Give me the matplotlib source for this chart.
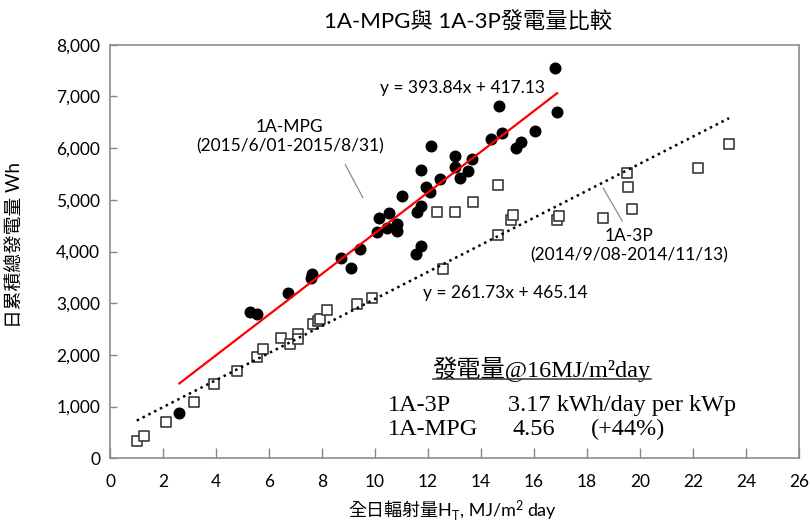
import numpy as np
import matplotlib
matplotlib.use("Agg")
import matplotlib.pyplot as plt
from matplotlib.lines import Line2D
from matplotlib.ticker import FuncFormatter

plt.rcParams['font.family'] = ['Lato', 'Noto Sans CJK TC', 'DejaVu Sans']

# 1A-MPG (2015/6/01-2015/8/31): daily irradiation (MJ/m2 day) vs daily energy (Wh)
mpg_x = [2.62, 5.28, 5.55, 6.72, 7.58, 7.62, 8.72, 9.09, 9.43, 10.08,
         10.15, 10.45, 10.53, 10.83, 10.83, 11.02, 11.55, 11.58, 11.74, 11.74,
         11.74, 11.92, 12.08, 12.11, 12.45, 13.00, 13.02, 13.20, 13.51, 13.66,
         14.38, 14.68, 14.79, 15.32, 15.51, 16.04, 16.79, 16.87]
mpg_y = [870, 2830, 2790, 3200, 3490, 3565, 3870, 3680, 4050, 4380,
         4640, 4450, 4740, 4530, 4400, 5070, 3950, 4760, 4100, 4880,
         5576, 5250, 5150, 6040, 5400, 5630, 5850, 5420, 5560, 5790,
         6180, 6820, 6300, 6000, 6120, 6330, 7550, 6700]

# 1A-3P (2014/9/08-2014/11/13)
p3_x = [1.01, 1.30, 2.10, 3.18, 3.94, 4.78, 5.56, 5.79, 6.45, 6.79,
        7.09, 7.09, 7.67, 7.86, 7.92, 8.18, 9.32, 9.90, 12.33, 12.58,
        13.02, 13.69, 14.65, 14.65, 15.13, 15.22, 16.85, 16.93, 18.62, 19.50,
        19.53, 19.71, 22.20, 23.36]
p3_y = [330, 425, 705, 1095, 1437, 1695, 1953, 2108, 2320, 2210,
        2398, 2300, 2597, 2660, 2694, 2868, 2978, 3106, 4758, 3656,
        4758, 4963, 5286, 4319, 4616, 4700, 4609, 4690, 4654, 5512,
        5253, 4816, 5621, 6079]

# linear trend lines printed on the chart
mpg_fit = (393.84, 417.13)
p3_fit = (261.73, 465.14)

x_ticks = list(range(0, 27, 2))
y_ticks = list(range(0, 8001, 1000))

fig = plt.figure(figsize=(8.1, 5.22), dpi=100)
ax = fig.add_axes([110 / 810, 1 - 458.3 / 522, 689 / 810, 413.6 / 522])

ax.scatter(p3_x, p3_y, marker='s', s=52, facecolors='white',
           edgecolors='#3a3a3a', linewidths=1.2, zorder=2)
ax.scatter(mpg_x, mpg_y, marker='o', s=58, color='black', zorder=3)

xm = np.array([min(mpg_x), max(mpg_x)])
ax.plot(xm, mpg_fit[0] * xm + mpg_fit[1], color='#ff0000', lw=1.6, zorder=4)
xp = np.array([min(p3_x), max(p3_x)])
ax.plot(xp, p3_fit[0] * xp + p3_fit[1], color='black', lw=1.8,
        linestyle=(0, (1, 1.6)), zorder=4)

ax.set_xlim(0, 26)
ax.set_ylim(0, 8000)
ax.set_xticks(x_ticks)
ax.set_yticks(y_ticks)
ax.yaxis.set_major_formatter(FuncFormatter(lambda v, p: f'{int(v):,}'))
ax.tick_params(axis='both', direction='in', colors='#868686', labelcolor='black',
               labelsize=12.5, length=7, width=1)
ax.tick_params(axis='x', pad=11)
ax.tick_params(axis='y', pad=7, length=5)
for s in ax.spines.values():
    s.set_color('#8c8c8c')
    s.set_linewidth(1.2)

fig.text(468 / 810, 1 - 22 / 522, '1A-MPG與 1A-3P發電量比較', ha='center', va='center',
         fontsize=16)
fig.text(15 / 810, 1 - 245 / 522, '日累積總發電量 Wh', ha='center', va='center',
         rotation=90, fontsize=13.5)

# series labels and trend equations
ax.text(6.78, 6225, '1A-MPG\n(2015/6/01-2015/8/31)', ha='center', va='center',
        fontsize=12.5, linespacing=1.25)
ax.plot([8.88, 9.54], [5677, 5044], color='#8c8c8c', lw=0.9)
ax.text(13.30, 7164, 'y = 393.84x + 417.13', ha='center', va='center', fontsize=12.5)
ax.text(19.59, 4103, '1A-3P\n(2014/9/08-2014/11/13)', ha='center', va='center',
        fontsize=12.5, linespacing=1.25)
ax.plot([18.61, 19.33], [5228, 4590], color='#8c8c8c', lw=0.9)
ax.text(14.92, 3200, 'y = 261.73x + 465.14', ha='center', va='center', fontsize=12.5)

# summary box
serif = ['Liberation Serif', 'Noto Sans CJK TC']
head = ax.text(12.17, 1580, '發電量@16MJ/m²day', family=serif, fontsize=17.5,
               va='baseline')
ax.text(10.47, 915, '1A-3P', family=serif, fontsize=17.5, va='baseline')
ax.text(15.03, 915, '3.17 kWh/day per kWp', family=serif, fontsize=17.5, va='baseline')
ax.text(10.47, 451, '1A-MPG', family=serif, fontsize=17.5, va='baseline')
ax.text(15.18, 451, '4.56', family=serif, fontsize=17.5, va='baseline')
ax.text(18.16, 451, '(+44%)', family=serif, fontsize=17.5, va='baseline')

# x label in pieces so H gets a subscript T
fig.canvas.draw()
r = fig.canvas.get_renderer()
inv = fig.transFigure.inverted()
base = 1 - 516 / 522
t1 = fig.text(348 / 810, base, '全日輻射量H', va='baseline', fontsize=13)
x1 = inv.transform((t1.get_window_extent(r).x1, 0))[0]
t2 = fig.text(x1 + 0.5 / 810, base - 4 / 522, 'T', va='baseline', fontsize=9)
x2 = inv.transform((t2.get_window_extent(r).x1, 0))[0]
t3 = fig.text(x2, base, ', MJ/m', va='baseline', fontsize=13)
x3 = inv.transform((t3.get_window_extent(r).x1, 0))[0]
t4 = fig.text(x3 + 0.5 / 810, base + 6 / 522, '2', va='baseline', fontsize=9)
x4 = inv.transform((t4.get_window_extent(r).x1, 0))[0]
fig.text(x4 + 4 / 810, base, 'day', va='baseline', fontsize=13)

bb = head.get_window_extent(r).transformed(inv)
yl = bb.y0 + 2.5 / 522
fig.add_artist(Line2D([bb.x0, bb.x1], [yl, yl], transform=fig.transFigure,
                      color='#333333', lw=1.1))

fig.savefig('out.png', dpi=100)
